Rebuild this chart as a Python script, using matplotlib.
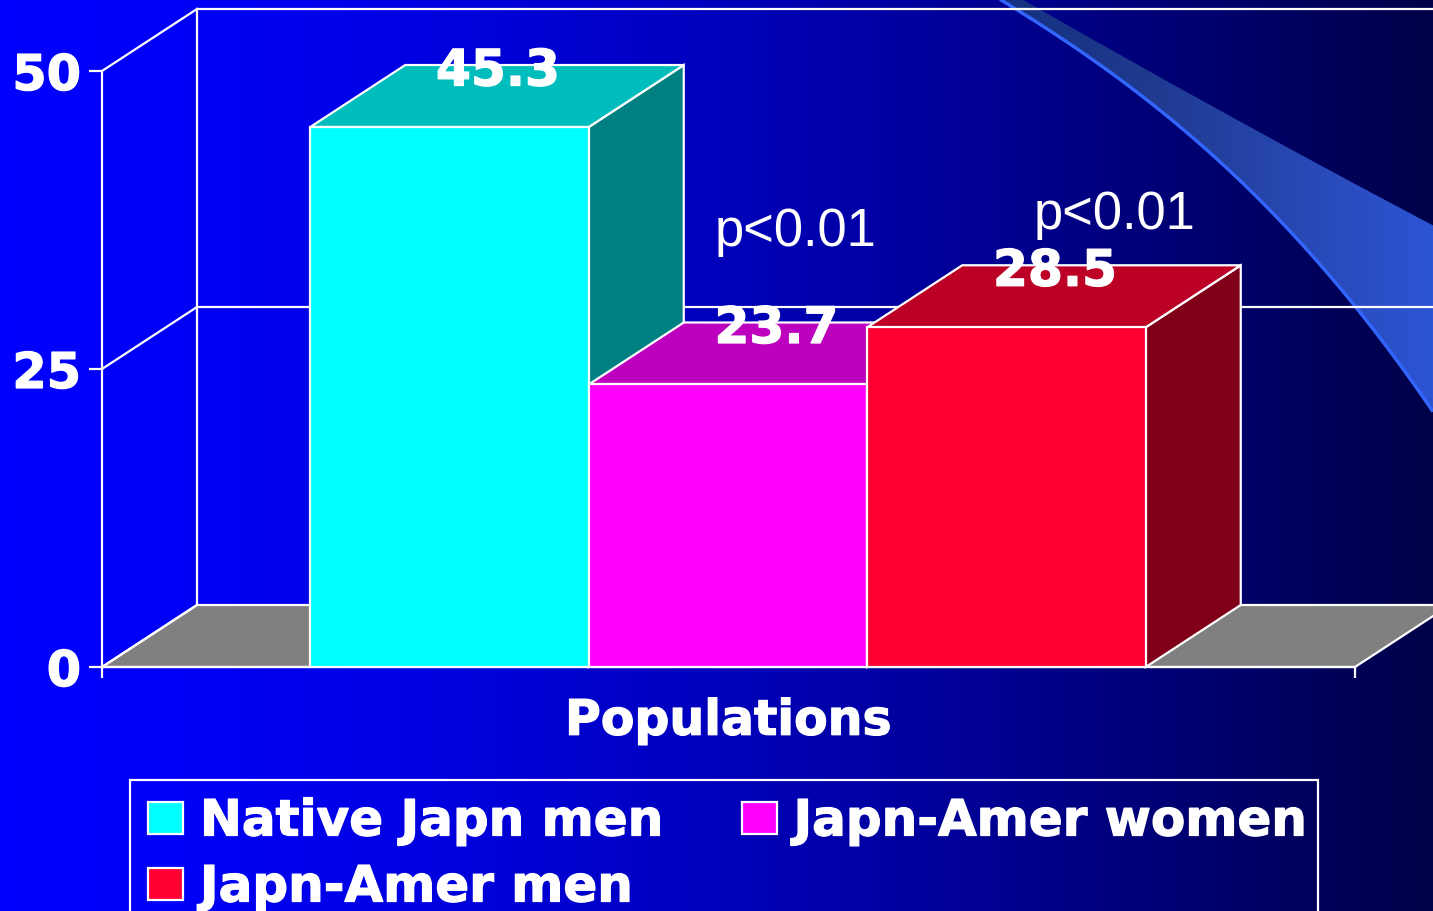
import numpy as np
import matplotlib
matplotlib.use("Agg")
import matplotlib.pyplot as plt
import matplotlib.patheffects as pe
from matplotlib.colors import LinearSegmentedColormap
from matplotlib.patches import Patch, Polygon, Rectangle

# Chart values
populations = ["Native Japn men", "Japn-Amer women", "Japn-Amer men"]
percent = [45.3, 23.7, 28.5]
value_ticks = [0, 25, 50]
axis_title = "Populations"
significance = ["p<0.01", "p<0.01"]

# Colours of each box: front, top, side
front_colors = ["#00FFFF", "#FF00FF", "#FF0033"]
top_colors = ["#00BDBD", "#BD00BD", "#BD0026"]
side_colors = ["#008080", "#800080", "#800019"]

W, H = 1433, 912
WHITE = "white"
LW = 1.6
px = 0.72  # points per pixel at 100 dpi
heavy = [pe.withStroke(linewidth=0.9, foreground=WHITE)]

fig = plt.figure(figsize=(W / 100, H / 100), dpi=100)

# Backdrop layer in pixel coordinates: gradient plus the ribbon
bg = fig.add_axes([0, 0, 1, 1], zorder=0)
bg.axis("off")

stops_x = [0, 200, 400, 700, 1000, 1100, 1300, 1433]
stops_b = [255, 245, 228, 190, 145, 128, 95, 72]
blue = np.interp(np.arange(W), stops_x, stops_b) / 255
grad = np.zeros((1, W, 3))
grad[0, :, 2] = blue
bg.imshow(grad, extent=(0, W, H, 0), aspect="auto", interpolation="bilinear", zorder=0)

# Ribbon outline: smooth curves through hand-picked points
upper_x = [1023, 1147, 1247, 1347, 1433]
upper_y = [0, 73, 125, 180, 227]
lower_x = [1000, 1080, 1147, 1213, 1280, 1347, 1397, 1433]
lower_y = [0, 53, 100, 157, 220, 300, 360, 413]
curve_x = np.linspace(1000, W, 200)
curve_low = np.polyval(np.polyfit(lower_x, lower_y, 3), curve_x)
curve_xu = np.linspace(1023, W, 200)
curve_up = np.polyval(np.polyfit(upper_x, upper_y, 2), curve_xu)
ribbon_poly = Polygon(np.vstack([np.column_stack([curve_xu, curve_up]),
                                 np.column_stack([curve_x, curve_low])[::-1]]),
                      closed=True, transform=bg.transData, facecolor="none", edgecolor="none")
bg.add_patch(ribbon_poly)
ribbon_cmap = LinearSegmentedColormap.from_list(
    "ribbon", [(0.0, "#14307F"), (0.35, "#1F3A8F"), (0.7, "#2848B4"), (1.0, "#2C55D5")])
ribbon = bg.imshow(np.linspace(0, 1, 256)[None, :], extent=(1000, W, 420, 0), aspect="auto",
                   cmap=ribbon_cmap, zorder=1)
ribbon.set_clip_path(ribbon_poly)
bg.plot(curve_x, curve_low, color="#3366FF", lw=2.4, zorder=2, solid_capstyle="butt")
bg.set_xlim(0, W)
bg.set_ylim(H, 0)

# Chart axes: spines sit on the front edge of the box, bar width is one category unit
ax = fig.add_axes([102 / W, 1 - 668 / H, (1355 - 102) / W, 596 / H], zorder=1)
ax.patch.set_alpha(0)
x_unit = 278.5
x_lo, x_hi = (102 - 449.5) / x_unit, (1355 - 449.5) / x_unit
ax.set_xlim(x_lo, x_hi)
ax.set_ylim(0, 50)
depth_x = 95 / x_unit
depth_y = 62 / (596 / 50)

for name in ("top", "right"):
    ax.spines[name].set_visible(False)
for name in ("left", "bottom"):
    ax.spines[name].set_color(WHITE)
    ax.spines[name].set_linewidth(LW)
    ax.spines[name].set_zorder(1.5)

# Floor and walls
floor = Polygon([(x_lo, 0), (x_lo + depth_x, depth_y), (x_hi + depth_x, depth_y), (x_hi, 0)],
                closed=True, facecolor="#808080", edgecolor=WHITE, lw=LW, clip_on=False, zorder=1)
ax.add_patch(floor)
ax.plot([x_lo + depth_x] * 2, [depth_y, value_ticks[-1] + depth_y], color=WHITE, lw=LW,
        clip_on=False, zorder=1)
for v in value_ticks:
    ax.plot([x_lo, x_lo + depth_x], [v, v + depth_y], color=WHITE, lw=LW, clip_on=False, zorder=1)
    if v > 0:
        ax.plot([x_lo + depth_x, x_hi + depth_x], [v + depth_y] * 2, color=WHITE, lw=LW,
                clip_on=False, zorder=1)

# Boxes: each one is painted over its left neighbour
xs = np.arange(len(percent))
for i, (x, v) in enumerate(zip(xs, percent)):
    z = 2 + i
    l, r = x - 0.5, x + 0.5
    ax.add_patch(Polygon([(r, 0), (r + depth_x, depth_y), (r + depth_x, v + depth_y), (r, v)],
                         closed=True, facecolor=side_colors[i], edgecolor=WHITE, lw=LW,
                         clip_on=False, zorder=z))
    ax.add_patch(Polygon([(l, v), (l + depth_x, v + depth_y), (r + depth_x, v + depth_y), (r, v)],
                         closed=True, facecolor=top_colors[i], edgecolor=WHITE, lw=LW,
                         clip_on=False, zorder=z))
    ax.bar(x, v, width=1, color=front_colors[i], edgecolor=WHITE, linewidth=LW, zorder=z + 0.5)
    ax.text(x + depth_x / 2 + 1 / x_unit, v + depth_y - 20.5 * 50 / 596, f"{v:.1f}", ha="center",
            va="baseline", color=WHITE, fontsize=36.2, fontweight="bold", family="DejaVu Sans",
            zorder=10, clip_on=False, path_effects=heavy)

# Axis ticks and title
ax.set_yticks(value_ticks)
ax.set_xticks([x_lo, x_hi], ["", ""])
ax.tick_params(axis="y", length=13 * px, width=LW, color=WHITE, pad=8 * px, labelcolor=WHITE,
               labelsize=35.5)
ax.tick_params(axis="x", length=11 * px, width=LW, color=WHITE)
for t in ax.get_yticklabels():
    t.set_fontweight("bold")
    t.set_family("DejaVu Sans")
    t.set_path_effects(heavy)
    t.set_verticalalignment("center_baseline")
ax.set_xlabel(axis_title, color=WHITE, fontsize=35.2, fontweight="bold", family="DejaVu Sans",
              labelpad=10, path_effects=heavy)

# Significance notes
note_style = dict(color=WHITE, fontsize=37.8, family="Liberation Sans", ha="left", va="baseline")
fig.text(715 / W, 1 - 246 / H, significance[0], zorder=20, **note_style)
fig.text(1034 / W, 1 - 229 / H, significance[1], zorder=20, **note_style)

# Legend box runs off the bottom edge, so its frame is drawn separately
fig.add_artist(Rectangle((130 / W, -0.05), (1318 - 130) / W, 1 - 781 / H + 0.05,
                         transform=fig.transFigure, facecolor="none", edgecolor=WHITE,
                         lw=LW, zorder=25))

# Legend entries fill column by column, so the third population goes under the first
order = [0, 2, 1]
handles = [Patch(facecolor=front_colors[i], edgecolor=WHITE, linewidth=LW, label=populations[i])
           for i in order]
fs = 36
fs_px = fs / px
leg = ax.legend(handles=handles, ncols=2, loc="upper left",
                bbox_to_anchor=(148 / W, 1 - 798.5 / H), bbox_transform=fig.transFigure,
                borderaxespad=0, borderpad=0,
                handlelength=35 / fs_px, handleheight=30 / fs_px,
                handletextpad=17 / fs_px, columnspacing=78 / fs_px, labelspacing=0.36,
                frameon=False,
                prop={"family": "DejaVu Sans", "weight": "bold", "size": fs})
leg.set_zorder(30)
for txt in leg.get_texts():
    txt.set_color(WHITE)
    txt.set_path_effects(heavy)

fig.savefig("out.png", dpi=100)
